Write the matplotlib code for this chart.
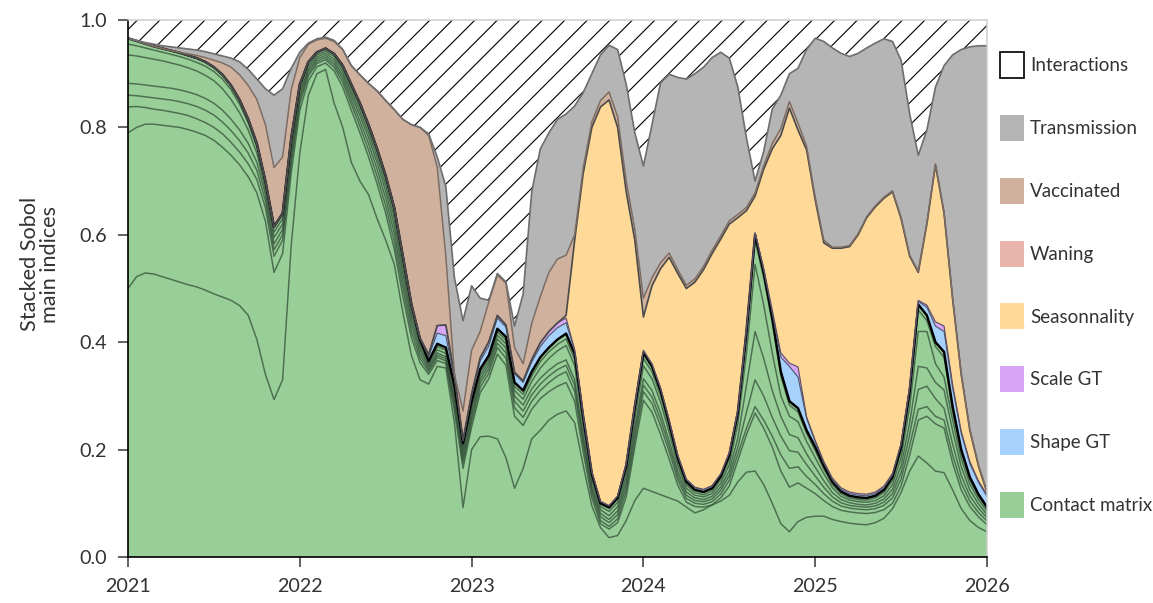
#!/usr/bin/env python3
"""
Stacked Sobol main indices over time (2021-2026), one band per parameter group,
the part not explained by main effects shown hatched as "Interactions".
Output: out.png
"""

import numpy as np
import matplotlib
matplotlib.use("Agg")
import matplotlib.pyplot as plt
from matplotlib.patches import Patch

plt.rcParams["font.family"] = ["Lato", "DejaVu Sans"]
plt.rcParams["hatch.linewidth"] = 0.6

DPI = 135
TXT = "#333333"

# ── 1. Data (one reading every 0.05 year) ────────────────────────────────────
t = 2021 + 0.05 * np.arange(101)

# contact matrix: upper edge of each stacked sub-index (green band)
cm_1 = [0.500, 0.522, 0.529, 0.527, 0.522, 0.517, 0.512, 0.507, 0.503, 0.497,
        0.490, 0.484, 0.478, 0.468, 0.450, 0.405, 0.340, 0.293, 0.330, 0.580,
        0.752, 0.860, 0.900, 0.908, 0.845, 0.800, 0.735, 0.700, 0.675, 0.630,
        0.590, 0.545, 0.455, 0.375, 0.330, 0.322, 0.355, 0.352, 0.250, 0.092,
        0.200, 0.224, 0.225, 0.220, 0.185, 0.128, 0.165, 0.220, 0.236, 0.255,
        0.266, 0.272, 0.250, 0.170, 0.095, 0.055, 0.036, 0.040, 0.068, 0.105,
        0.128, 0.122, 0.116, 0.110, 0.104, 0.093, 0.082, 0.088, 0.097, 0.104,
        0.115, 0.140, 0.158, 0.160, 0.135, 0.100, 0.062, 0.047, 0.066, 0.074,
        0.076, 0.076, 0.070, 0.066, 0.063, 0.061, 0.060, 0.064, 0.072, 0.090,
        0.120, 0.160, 0.188, 0.175, 0.160, 0.157, 0.125, 0.090, 0.068, 0.055, 0.047]
cm_2 = [0.790, 0.800, 0.806, 0.806, 0.804, 0.802, 0.800, 0.796, 0.791, 0.785,
        0.776, 0.763, 0.748, 0.730, 0.708, 0.678, 0.625, 0.530, 0.565, 0.715,
        0.832, 0.887, 0.913, 0.920, 0.905, 0.875, 0.832, 0.790, 0.745, 0.695,
        0.640, 0.573, 0.485, 0.408, 0.362, 0.340, 0.366, 0.360, 0.272, 0.165,
        0.242, 0.306, 0.332, 0.378, 0.357, 0.262, 0.245, 0.275, 0.295, 0.308,
        0.318, 0.325, 0.290, 0.195, 0.110, 0.062, 0.052, 0.064, 0.112, 0.205,
        0.292, 0.270, 0.228, 0.182, 0.134, 0.102, 0.094, 0.093, 0.097, 0.110,
        0.132, 0.180, 0.228, 0.268, 0.240, 0.205, 0.160, 0.130, 0.138, 0.128,
        0.118, 0.105, 0.094, 0.087, 0.084, 0.082, 0.081, 0.083, 0.088, 0.100,
        0.132, 0.190, 0.255, 0.262, 0.248, 0.240, 0.175, 0.125, 0.094, 0.075, 0.060]
cm_3 = [0.838, 0.839, 0.837, 0.834, 0.832, 0.829, 0.826, 0.822, 0.816, 0.809,
        0.800, 0.788, 0.772, 0.754, 0.732, 0.703, 0.650, 0.560, 0.590, 0.732,
        0.845, 0.896, 0.919, 0.926, 0.912, 0.884, 0.843, 0.802, 0.758, 0.709,
        0.654, 0.588, 0.500, 0.420, 0.370, 0.345, 0.372, 0.365, 0.282, 0.175,
        0.252, 0.316, 0.342, 0.390, 0.370, 0.278, 0.260, 0.290, 0.310, 0.325,
        0.337, 0.345, 0.308, 0.208, 0.119, 0.068, 0.057, 0.071, 0.123, 0.218,
        0.308, 0.286, 0.244, 0.196, 0.144, 0.109, 0.100, 0.098, 0.103, 0.117,
        0.143, 0.192, 0.240, 0.280, 0.255, 0.225, 0.190, 0.165, 0.168, 0.150,
        0.135, 0.118, 0.104, 0.095, 0.091, 0.089, 0.088, 0.090, 0.096, 0.110,
        0.145, 0.208, 0.275, 0.280, 0.262, 0.255, 0.190, 0.138, 0.104, 0.083, 0.067]
cm_4 = [0.860, 0.859, 0.857, 0.855, 0.853, 0.851, 0.848, 0.844, 0.839, 0.832,
        0.823, 0.810, 0.794, 0.775, 0.752, 0.720, 0.663, 0.572, 0.600, 0.742,
        0.852, 0.901, 0.923, 0.930, 0.917, 0.891, 0.851, 0.812, 0.770, 0.722,
        0.668, 0.603, 0.514, 0.432, 0.378, 0.349, 0.376, 0.369, 0.289, 0.183,
        0.260, 0.324, 0.350, 0.398, 0.380, 0.290, 0.272, 0.302, 0.322, 0.337,
        0.349, 0.357, 0.320, 0.218, 0.126, 0.075, 0.064, 0.079, 0.133, 0.230,
        0.320, 0.298, 0.256, 0.206, 0.152, 0.115, 0.105, 0.103, 0.108, 0.124,
        0.152, 0.205, 0.270, 0.330, 0.300, 0.260, 0.225, 0.198, 0.195, 0.172,
        0.151, 0.130, 0.112, 0.101, 0.096, 0.094, 0.093, 0.095, 0.102, 0.118,
        0.157, 0.228, 0.312, 0.318, 0.295, 0.277, 0.210, 0.152, 0.114, 0.091, 0.073]
cm_5 = [0.882, 0.881, 0.879, 0.877, 0.875, 0.873, 0.870, 0.866, 0.861, 0.854,
        0.845, 0.832, 0.815, 0.795, 0.770, 0.735, 0.675, 0.583, 0.610, 0.752,
        0.859, 0.906, 0.927, 0.934, 0.922, 0.897, 0.859, 0.822, 0.781, 0.734,
        0.681, 0.617, 0.528, 0.443, 0.386, 0.353, 0.380, 0.373, 0.296, 0.190,
        0.268, 0.331, 0.357, 0.406, 0.389, 0.300, 0.283, 0.313, 0.333, 0.348,
        0.360, 0.367, 0.330, 0.226, 0.132, 0.081, 0.070, 0.086, 0.142, 0.242,
        0.332, 0.310, 0.268, 0.216, 0.160, 0.121, 0.110, 0.107, 0.113, 0.130,
        0.161, 0.222, 0.320, 0.420, 0.370, 0.310, 0.262, 0.228, 0.222, 0.192,
        0.167, 0.142, 0.120, 0.107, 0.101, 0.098, 0.097, 0.100, 0.108, 0.126,
        0.170, 0.250, 0.355, 0.352, 0.325, 0.311, 0.235, 0.168, 0.125, 0.099, 0.079]
cm_6 = [0.935, 0.933, 0.930, 0.927, 0.924, 0.920, 0.916, 0.911, 0.905, 0.897,
        0.887, 0.872, 0.852, 0.827, 0.795, 0.752, 0.684, 0.595, 0.620, 0.762,
        0.866, 0.911, 0.931, 0.938, 0.927, 0.903, 0.866, 0.830, 0.790, 0.744,
        0.692, 0.630, 0.540, 0.453, 0.393, 0.357, 0.386, 0.379, 0.304, 0.198,
        0.276, 0.338, 0.363, 0.413, 0.397, 0.310, 0.294, 0.327, 0.352, 0.370,
        0.384, 0.394, 0.356, 0.243, 0.142, 0.088, 0.077, 0.094, 0.152, 0.258,
        0.356, 0.332, 0.288, 0.232, 0.170, 0.128, 0.115, 0.112, 0.118, 0.137,
        0.172, 0.248, 0.380, 0.545, 0.470, 0.380, 0.300, 0.262, 0.252, 0.215,
        0.185, 0.155, 0.129, 0.113, 0.106, 0.103, 0.102, 0.105, 0.114, 0.135,
        0.185, 0.280, 0.420, 0.420, 0.360, 0.335, 0.255, 0.183, 0.136, 0.107, 0.085]
cm_7 = [0.955, 0.952, 0.948, 0.944, 0.940, 0.936, 0.932, 0.927, 0.921, 0.914,
        0.904, 0.890, 0.870, 0.843, 0.808, 0.763, 0.693, 0.605, 0.630, 0.772,
        0.873, 0.916, 0.935, 0.942, 0.932, 0.909, 0.873, 0.838, 0.798, 0.753,
        0.702, 0.641, 0.551, 0.462, 0.399, 0.361, 0.392, 0.385, 0.312, 0.205,
        0.283, 0.344, 0.369, 0.419, 0.404, 0.318, 0.303, 0.337, 0.364, 0.382,
        0.396, 0.406, 0.368, 0.252, 0.149, 0.094, 0.085, 0.102, 0.162, 0.270,
        0.370, 0.345, 0.300, 0.242, 0.178, 0.134, 0.120, 0.116, 0.123, 0.144,
        0.182, 0.262, 0.410, 0.590, 0.520, 0.436, 0.337, 0.283, 0.270, 0.230,
        0.198, 0.164, 0.135, 0.118, 0.110, 0.107, 0.106, 0.110, 0.120, 0.143,
        0.197, 0.300, 0.460, 0.440, 0.392, 0.372, 0.272, 0.194, 0.144, 0.113, 0.090]
cm_top = [0.966, 0.961, 0.956, 0.951, 0.947, 0.943, 0.939, 0.934, 0.929, 0.922,
          0.912, 0.898, 0.878, 0.851, 0.815, 0.770, 0.700, 0.615, 0.640, 0.780,
          0.880, 0.922, 0.940, 0.947, 0.937, 0.915, 0.880, 0.845, 0.805, 0.760,
          0.710, 0.650, 0.560, 0.470, 0.405, 0.365, 0.397, 0.390, 0.320, 0.212,
          0.290, 0.350, 0.375, 0.425, 0.410, 0.325, 0.310, 0.345, 0.372, 0.390,
          0.405, 0.416, 0.378, 0.260, 0.155, 0.100, 0.092, 0.110, 0.170, 0.280,
          0.380, 0.355, 0.310, 0.250, 0.185, 0.140, 0.125, 0.121, 0.128, 0.150,
          0.190, 0.270, 0.420, 0.600, 0.530, 0.445, 0.345, 0.290, 0.277, 0.236,
          0.205, 0.170, 0.140, 0.122, 0.114, 0.111, 0.110, 0.114, 0.125, 0.149,
          0.205, 0.310, 0.470, 0.450, 0.400, 0.382, 0.280, 0.200, 0.149, 0.117, 0.093]

# thin bands: index values (thickness)
shape_gt = [0.000, 0.000, 0.000, 0.000, 0.000, 0.000, 0.000, 0.000, 0.000, 0.000,
            0.000, 0.000, 0.000, 0.000, 0.000, 0.000, 0.000, 0.000, 0.000, 0.000,
            0.000, 0.000, 0.000, 0.000, 0.000, 0.000, 0.000, 0.000, 0.000, 0.000,
            0.000, 0.000, 0.000, 0.000, 0.002, 0.008, 0.020, 0.022, 0.012, 0.004,
            0.010, 0.015, 0.018, 0.020, 0.018, 0.016, 0.015, 0.018, 0.020, 0.022,
            0.022, 0.020, 0.006, 0.003, 0.003, 0.003, 0.003, 0.003, 0.003, 0.003,
            0.004, 0.004, 0.004, 0.004, 0.004, 0.004, 0.004, 0.004, 0.004, 0.004,
            0.004, 0.003, 0.003, 0.003, 0.005, 0.010, 0.027, 0.065, 0.058, 0.022,
            0.010, 0.005, 0.004, 0.004, 0.004, 0.004, 0.004, 0.004, 0.004, 0.004,
            0.005, 0.005, 0.006, 0.015, 0.030, 0.038, 0.035, 0.030, 0.025, 0.022, 0.020]
scale_gt = [0.000, 0.000, 0.000, 0.000, 0.000, 0.000, 0.000, 0.000, 0.000, 0.000,
            0.000, 0.000, 0.000, 0.000, 0.000, 0.000, 0.000, 0.000, 0.000, 0.000,
            0.000, 0.000, 0.000, 0.000, 0.000, 0.000, 0.000, 0.000, 0.000, 0.000,
            0.000, 0.000, 0.000, 0.000, 0.001, 0.004, 0.014, 0.020, 0.008, 0.002,
            0.004, 0.006, 0.008, 0.005, 0.004, 0.003, 0.003, 0.005, 0.007, 0.008,
            0.009, 0.009, 0.002, 0.001, 0.001, 0.001, 0.001, 0.001, 0.001, 0.001,
            0.001, 0.001, 0.001, 0.001, 0.001, 0.001, 0.001, 0.001, 0.001, 0.001,
            0.001, 0.001, 0.001, 0.001, 0.003, 0.005, 0.008, 0.006, 0.019, 0.003,
            0.002, 0.003, 0.003, 0.003, 0.003, 0.003, 0.003, 0.003, 0.003, 0.003,
            0.002, 0.002, 0.002, 0.004, 0.008, 0.010, 0.006, 0.004, 0.004, 0.003, 0.003]
waning = [0.000, 0.000, 0.000, 0.000, 0.000, 0.000, 0.000, 0.000, 0.000, 0.000,
          0.000, 0.000, 0.000, 0.000, 0.000, 0.000, 0.000, 0.000, 0.000, 0.000,
          0.000, 0.000, 0.000, 0.000, 0.000, 0.000, 0.000, 0.000, 0.000, 0.000,
          0.000, 0.000, 0.000, 0.000, 0.000, 0.000, 0.000, 0.000, 0.000, 0.000,
          0.000, 0.000, 0.000, 0.000, 0.000, 0.000, 0.000, 0.000, 0.000, 0.000,
          0.000, 0.000, 0.001, 0.001, 0.001, 0.001, 0.001, 0.001, 0.001, 0.001,
          0.001, 0.001, 0.001, 0.001, 0.001, 0.001, 0.001, 0.001, 0.001, 0.001,
          0.001, 0.001, 0.001, 0.001, 0.001, 0.001, 0.001, 0.001, 0.001, 0.001,
          0.001, 0.001, 0.000, 0.000, 0.000, 0.000, 0.000, 0.000, 0.000, 0.000,
          0.000, 0.000, 0.000, 0.000, 0.000, 0.000, 0.000, 0.000, 0.000, 0.000, 0.000]

# wide bands: upper edge (0 = band absent)
season_top = [0.000, 0.000, 0.000, 0.000, 0.000, 0.000, 0.000, 0.000, 0.000, 0.000,
              0.000, 0.000, 0.000, 0.000, 0.000, 0.000, 0.000, 0.000, 0.000, 0.000,
              0.000, 0.000, 0.000, 0.000, 0.000, 0.000, 0.000, 0.000, 0.000, 0.000,
              0.000, 0.000, 0.000, 0.000, 0.000, 0.000, 0.000, 0.000, 0.000, 0.000,
              0.000, 0.000, 0.000, 0.000, 0.000, 0.000, 0.000, 0.000, 0.000, 0.000,
              0.000, 0.450, 0.590, 0.715, 0.800, 0.838, 0.851, 0.800, 0.680, 0.590,
              0.447, 0.505, 0.537, 0.558, 0.528, 0.500, 0.512, 0.535, 0.565, 0.592,
              0.620, 0.632, 0.645, 0.672, 0.722, 0.760, 0.785, 0.836, 0.795, 0.758,
              0.665, 0.585, 0.575, 0.575, 0.578, 0.600, 0.632, 0.652, 0.668, 0.680,
              0.630, 0.560, 0.530, 0.620, 0.730, 0.640, 0.480, 0.340, 0.236, 0.170, 0.120]
vacc_top = [0.966, 0.961, 0.956, 0.951, 0.947, 0.943, 0.940, 0.937, 0.934, 0.930,
            0.925, 0.920, 0.912, 0.898, 0.878, 0.852, 0.805, 0.725, 0.745, 0.870,
            0.930, 0.955, 0.963, 0.966, 0.960, 0.945, 0.915, 0.898, 0.882, 0.868,
            0.850, 0.833, 0.815, 0.805, 0.800, 0.785, 0.726, 0.560, 0.340, 0.272,
            0.385, 0.420, 0.475, 0.525, 0.510, 0.390, 0.360, 0.435, 0.485, 0.530,
            0.555, 0.562, 0.600, 0.725, 0.810, 0.850, 0.866, 0.820, 0.700, 0.610,
            0.482, 0.520, 0.548, 0.566, 0.535, 0.506, 0.518, 0.541, 0.571, 0.598,
            0.626, 0.638, 0.651, 0.678, 0.728, 0.770, 0.798, 0.848, 0.808, 0.765,
            0.670, 0.590, 0.577, 0.577, 0.580, 0.602, 0.634, 0.654, 0.670, 0.682,
            0.632, 0.562, 0.532, 0.622, 0.732, 0.642, 0.482, 0.342, 0.238, 0.172, 0.122]
total_top = [0.966, 0.962, 0.958, 0.955, 0.952, 0.950, 0.948, 0.946, 0.944, 0.941,
             0.937, 0.933, 0.929, 0.922, 0.908, 0.890, 0.872, 0.860, 0.872, 0.910,
             0.940, 0.957, 0.965, 0.968, 0.962, 0.945, 0.915, 0.898, 0.882, 0.868,
             0.850, 0.833, 0.815, 0.805, 0.800, 0.788, 0.745, 0.690, 0.520, 0.440,
             0.505, 0.482, 0.478, 0.528, 0.512, 0.430, 0.490, 0.680, 0.760, 0.790,
             0.815, 0.825, 0.840, 0.865, 0.900, 0.935, 0.953, 0.945, 0.880, 0.790,
             0.728, 0.805, 0.883, 0.899, 0.893, 0.890, 0.900, 0.912, 0.930, 0.940,
             0.929, 0.875, 0.780, 0.700, 0.755, 0.834, 0.860, 0.900, 0.910, 0.945,
             0.966, 0.960, 0.948, 0.938, 0.932, 0.938, 0.948, 0.957, 0.965, 0.960,
             0.925, 0.825, 0.748, 0.795, 0.875, 0.915, 0.935, 0.945, 0.950, 0.952, 0.952]

LABELS = ["Interactions", "Transmission", "Vaccinated", "Waning",
          "Seasonnality", "Scale GT", "Shape GT", "Contact matrix"]
COLORS = ["white", "#b5b5b5", "#d0b19e", "#e8b4ac",
          "#fed998", "#d7a6f5", "#a6d1fd", "#98ce97"]

# ── 2. Stack levels ──────────────────────────────────────────────────────────
contact_lvl = np.array(cm_top)
shape_lvl   = contact_lvl + np.array(shape_gt)
scale_lvl   = shape_lvl + np.array(scale_gt)
season_lvl  = np.maximum(season_top, scale_lvl)
waning_lvl  = season_lvl + np.array(waning)
vacc_lvl    = np.maximum(vacc_top, waning_lvl)
total_lvl   = np.maximum(total_top, vacc_lvl)

# ── 3. Plot ──────────────────────────────────────────────────────────────────
fig = plt.figure(figsize=(1153 / DPI, 603 / DPI), dpi=DPI)
ax = fig.add_axes([128 / 1153, 46 / 603, 859 / 1153, 537 / 603])

# interactions: hatched space above the stack
ax.fill_between(t, total_lvl, 1.0, facecolor="white", edgecolor="black",
                hatch="//", linewidth=0)

# painter's order: each band filled from 0 so no seams show between them
levels = [total_lvl, vacc_lvl, waning_lvl, season_lvl, scale_lvl, shape_lvl, contact_lvl]
for lvl, col in zip(levels, COLORS[1:]):
    ax.fill_between(t, 0, lvl, facecolor=col, edgecolor="none", linewidth=0)

for sub in [cm_1, cm_2, cm_3, cm_4, cm_5, cm_6, cm_7]:
    ax.plot(t, sub, color="#34503a", lw=0.8, alpha=0.75)

ax.plot(t, contact_lvl, color="black", lw=1.3)
ax.plot(t, shape_lvl, color="#4d5a66", lw=0.6)
ax.plot(t, scale_lvl, color="#5a4d66", lw=0.6)
ax.plot(t, season_lvl, color="#4a4a4a", lw=0.9)
ax.plot(t, vacc_lvl, color="#7d6c62", lw=0.8)
ax.plot(t, total_lvl, color="#6e6e6e", lw=0.9)

ax.set_xlim(2021, 2026)
ax.set_ylim(0, 1)
ax.set_xticks(range(2021, 2027))
ax.set_yticks(np.arange(0, 1.01, 0.2))
ax.set_yticklabels([f"{v:.1f}" for v in np.arange(0, 1.01, 0.2)])
ax.tick_params(direction="out", length=5.5, width=0.8, color=TXT,
               labelsize=10.5, labelcolor=TXT)
ax.tick_params(axis="x", pad=5.5)
ax.tick_params(axis="y", pad=5.5)

for side in ["left", "bottom"]:
    ax.spines[side].set_color("black")
    ax.spines[side].set_linewidth(0.9)
for side in ["top", "right"]:
    ax.spines[side].set_color("#cccccc")
    ax.spines[side].set_linewidth(0.8)

ax.set_ylabel("Stacked Sobol\nmain indices", fontsize=11.5, color=TXT, linespacing=1.0)
ax.yaxis.set_label_coords(-0.0795, 0.545)

handles = [Patch(facecolor=COLORS[0], edgecolor="black", linewidth=0.9)]
handles += [Patch(facecolor=c, edgecolor="none") for c in COLORS[1:]]
ax.legend(handles, LABELS, loc="center left", bbox_to_anchor=(1.0151, 0.5065),
          frameon=False, fontsize=10, labelcolor=TXT, borderpad=0,
          borderaxespad=0, handlelength=1.28, handleheight=1.75,
          handletextpad=0.33, labelspacing=1.97)

fig.savefig("out.png", dpi=DPI)
